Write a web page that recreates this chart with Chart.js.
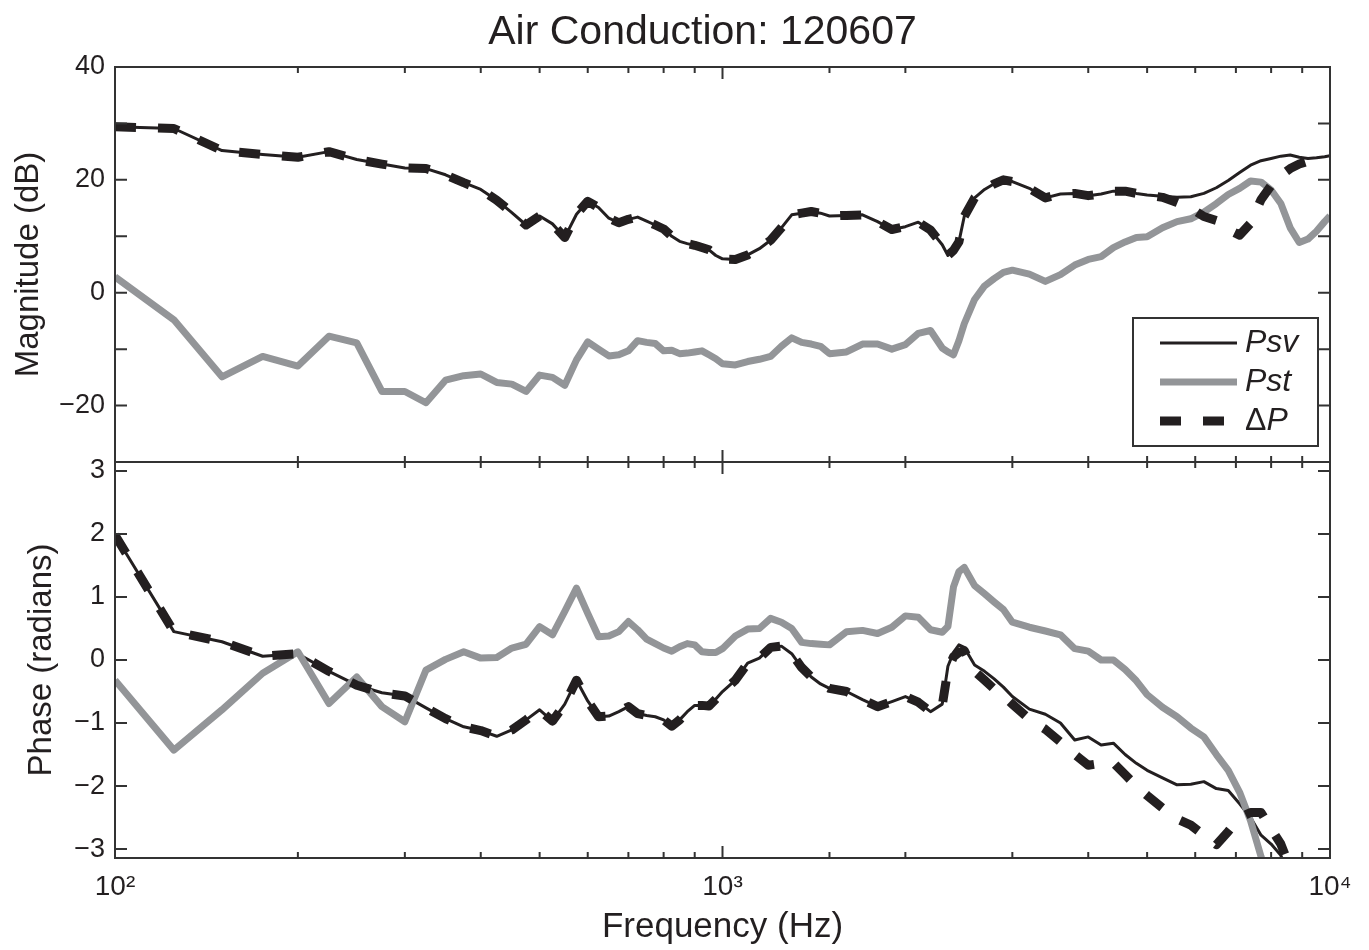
<!DOCTYPE html>
<html>
<head>
<meta charset="utf-8">
<title>Air Conduction: 120607</title>
<script src="https://cdn.jsdelivr.net/npm/chart.js@4/dist/chart.umd.min.js"></script>
<style>
  body { margin: 0; background: #fff; }
  #wrap { position: relative; width: 1369px; height: 950px; background: #fff; }
  #magChart { position: absolute; left: 0; top: 0; }
  #phaseChart { position: absolute; left: 0; top: 450px; }
  #title {
    position: absolute; left: 0; top: 8px; width: 1405px;
    text-align: center; line-height: 44px; font-size: 41px;
    font-family: "Liberation Sans", Arial, Helvetica, sans-serif; color: #231f20;
  }
</style>
</head>
<body>
<div id="wrap">
  <canvas id="magChart" width="1369" height="470"></canvas>
  <canvas id="phaseChart" width="1369" height="500"></canvas>
  <div id="title">Air Conduction: 120607</div>
</div>
<script>
// frequencies (Hz) shared by every curve
var freqHz = [
  100, 125, 150, 175, 200, 225, 250, 275, 300, 325,
  350, 375, 400, 425, 450, 475, 500, 525, 550, 575,
  600, 625, 650, 675, 700, 725, 750, 775, 800, 825,
  850, 875, 900, 925, 950, 975, 1000, 1050, 1100, 1150,
  1200, 1250, 1300, 1350, 1400, 1450, 1500, 1600, 1700, 1800,
  1900, 2000, 2100, 2200, 2300, 2350, 2400, 2450, 2500, 2600,
  2700, 2800, 2900, 3000, 3200, 3400, 3600, 3800, 4000, 4200,
  4400, 4600, 4800, 5000, 5300, 5600, 5900, 6200, 6500, 6800,
  7100, 7400, 7700, 8000, 8300, 8600, 8900, 9200, 9500, 9800,
  10000
];

// magnitude (dB)
var psvMag = [
  29.4, 29.1, 25.2, 24.5, 24.0, 25.0, 23.6, 22.8, 22.1, 22.0,
  20.9, 19.5, 18.3, 16.4, 14.2, 12.0, 13.6, 12.2, 9.8, 13.9,
  16.2, 15.1, 13.2, 12.4, 13.0, 13.4, 12.7, 12.0, 11.3, 10.0,
  9.1, 8.7, 8.4, 8.0, 7.6, 6.6, 6.0, 5.9, 6.7, 7.8,
  9.3, 11.5, 13.8, 14.1, 14.4, 14.1, 13.6, 13.7, 13.8, 12.6,
  11.2, 11.7, 12.5, 11.1, 8.5, 6.6, 7.5, 9.0, 13.5, 16.8,
  18.3, 19.3, 20.0, 19.7, 18.5, 16.8, 17.5, 17.6, 17.2, 17.5,
  18.0, 18.0, 17.6, 17.3, 17.1, 16.9, 17.0, 17.6, 18.6, 19.9,
  21.3, 22.6, 23.4, 23.8, 24.2, 24.4, 24.0, 23.8, 23.9, 24.1,
  24.3
];
var pstMag = [
  2.8, -4.8, -14.9, -11.3, -13.0, -7.7, -8.9, -17.5, -17.5, -19.5,
  -15.5, -14.7, -14.4, -15.9, -16.2, -17.5, -14.6, -15.0, -16.4, -11.9,
  -8.7, -10.0, -11.2, -11.0, -10.3, -8.5, -8.8, -9.0, -10.3, -10.2,
  -10.8, -10.7, -10.5, -10.3, -11.0, -11.7, -12.6, -12.8, -12.2, -11.8,
  -11.3, -9.5, -8.0, -8.8, -9.1, -9.5, -10.8, -10.5, -9.1, -9.1,
  -10.0, -9.2, -7.2, -6.7, -9.8, -10.5, -11.0, -8.5, -5.5, -1.2,
  1.2, 2.5, 3.6, 4.0, 3.3, 2.0, 3.2, 4.9, 5.9, 6.4,
  8.0, 9.0, 9.8, 9.9, 11.5, 12.6, 13.1, 14.3, 15.8, 17.4,
  18.5, 19.8, 19.6, 18.2, 15.8, 11.5, 8.9, 9.5, 10.9, 12.6,
  13.6
];
var dpMag = [
  29.4, 29.1, 25.2, 24.5, 24.0, 25.0, 23.6, 22.8, 22.1, 22.0,
  20.9, 19.5, 18.3, 16.4, 14.2, 12.0, 13.6, 12.2, 9.8, 13.9,
  16.2, 15.1, 13.2, 12.4, 13.0, 13.4, 12.7, 12.0, 11.3, 10.0,
  9.1, 8.7, 8.4, 8.0, 7.6, 6.6, 6.0, 5.9, 6.7, 7.8,
  9.3, 11.5, 13.8, 14.1, 14.4, 14.1, 13.6, 13.7, 13.8, 12.6,
  11.2, 11.7, 12.5, 11.1, 8.5, 6.6, 7.5, 9.0, 13.5, 16.8,
  18.3, 19.3, 20.0, 19.7, 18.5, 16.8, 17.5, 17.6, 17.2, 17.5,
  18.0, 18.0, 17.6, 17.3, 16.9, 16.0, 15.0, 13.5, 12.8, 11.2,
  10.2, 12.3, 16.5, 19.0, 20.8, 22.0, 22.8, 23.3, null, null,
  null
];

// phase (radians)
var psvPhase = [
  1.98, 0.45, 0.29, 0.06, 0.10, -0.18, -0.40, -0.52, -0.57, -0.76,
  -0.93, -1.06, -1.12, -1.21, -1.11, -0.95, -0.79, -0.97, -0.70, -0.32,
  -0.65, -0.90, -0.89, -0.82, -0.74, -0.85, -0.88, -0.90, -0.95, -1.05,
  -0.95, -0.82, -0.72, -0.72, -0.73, -0.62, -0.50, -0.32, -0.05, 0.03,
  0.20, 0.22, 0.10, -0.12, -0.27, -0.38, -0.45, -0.50, -0.63, -0.74,
  -0.66, -0.58, -0.67, -0.82, -0.70, -0.10, 0.12, 0.24, 0.20, -0.08,
  -0.18, -0.30, -0.43, -0.58, -0.78, -0.86, -1.00, -1.27, -1.22, -1.35,
  -1.32, -1.50, -1.64, -1.75, -1.87, -1.98, -1.97, -1.93, -2.04, -2.07,
  -2.28, -2.50, -2.78, -2.92, -3.10, -3.50, null, null, null, null,
  null
];
var pstPhase = [
  -0.32, -1.43, -0.79, -0.21, 0.13, -0.69, -0.27, -0.74, -0.98, -0.16,
  0.01, 0.13, 0.03, 0.04, 0.19, 0.25, 0.53, 0.40, 0.77, 1.14,
  0.74, 0.37, 0.38, 0.45, 0.61, 0.48, 0.33, 0.26, 0.19, 0.14,
  0.21, 0.26, 0.24, 0.13, 0.12, 0.12, 0.18, 0.38, 0.49, 0.50,
  0.66, 0.60, 0.50, 0.28, 0.26, 0.25, 0.24, 0.45, 0.47, 0.42,
  0.52, 0.70, 0.68, 0.48, 0.44, 0.53, 1.16, 1.40, 1.47, 1.18,
  1.05, 0.92, 0.80, 0.60, 0.52, 0.46, 0.40, 0.18, 0.14, 0.00,
  0.00, -0.15, -0.33, -0.55, -0.75, -0.90, -1.08, -1.22, -1.50, -1.75,
  -2.10, -2.55, -3.12, -3.60, null, null, null, null, null, null,
  null
];
var dpPhase = [
  1.98, 0.45, 0.29, 0.06, 0.10, -0.18, -0.40, -0.52, -0.57, -0.76,
  -0.93, -1.06, -1.12, -1.21, -1.11, -0.95, -0.79, -0.97, -0.70, -0.32,
  -0.65, -0.90, -0.89, -0.82, -0.74, -0.85, -0.88, -0.90, -0.95, -1.05,
  -0.95, -0.82, -0.72, -0.72, -0.73, -0.62, -0.50, -0.32, -0.05, 0.03,
  0.20, 0.22, 0.10, -0.12, -0.27, -0.38, -0.45, -0.50, -0.63, -0.74,
  -0.66, -0.58, -0.67, -0.82, -0.72, -0.15, 0.05, 0.12, 0.15, -0.18,
  -0.32, -0.46, -0.57, -0.70, -0.94, -1.10, -1.30, -1.50, -1.67, -1.64,
  -1.63, -1.82, -2.00, -2.15, -2.35, -2.52, -2.62, -2.78, -2.93, -2.72,
  -2.50, -2.42, -2.42, -2.68, -2.92, -3.30, null, null, null, null,
  null
];

// ticks
var magTicks = [-30, -20, -10, 0, 10, 20, 30, 40];
var phaseTicks = [-3, -2, -1, 0, 1, 2, 3];
var decadeLabels = { 100: '10\u00B2', 1000: '10\u00B3', 10000: '10\u2074' };

var BLACK = '#231f20';
var GREY = '#939598';
var FONT = '"Liberation Sans", Arial, Helvetica, sans-serif';

Chart.defaults.font.family = FONT;
Chart.defaults.color = BLACK;

function pts(vals) {
    return freqHz.map(function (f, i) { return { x: f, y: vals[i] }; });
}

function fmt(v) {
    return v < 0 ? '\u2212' + Math.abs(v) : String(v);
}

function isDecade(v) {
    var l = Math.log10(v);
    return Math.abs(l - Math.round(l)) < 1e-9;
}

// stop the axes from asking for extra room around the plot
function noPad(s) {
    s.paddingTop = 0; s.paddingBottom = 0;
    s.paddingLeft = 0; s.paddingRight = 0;
}

// box + inward ticks like the original figure
var frameTicks = {
    id: 'frameTicks',
    afterDatasetsDraw: function (chart) {
        var ctx = chart.ctx, a = chart.chartArea;
        var x = chart.scales.x, y = chart.scales.y;
        ctx.save();
        ctx.strokeStyle = '#333';
        ctx.lineWidth = 2;
        ctx.beginPath();
        y.ticks.forEach(function (t) {
            var py = y.getPixelForValue(t.value);
            ctx.moveTo(a.left, py); ctx.lineTo(a.left + 12, py);
            ctx.moveTo(a.right, py); ctx.lineTo(a.right - 12, py);
        });
        x.ticks.forEach(function (t) {
            var px = x.getPixelForValue(t.value);
            var len = isDecade(t.value) ? 12 : 6;
            ctx.moveTo(px, a.top); ctx.lineTo(px, a.top + len);
            ctx.moveTo(px, a.bottom); ctx.lineTo(px, a.bottom - len);
        });
        ctx.stroke();
        ctx.strokeRect(a.left, a.top, a.right - a.left, a.bottom - a.top);
        ctx.restore();
    }
};

// legend box inside the magnitude panel
var boxLegend = {
    id: 'boxLegend',
    afterDraw: function (chart) {
        var ctx = chart.ctx, a = chart.chartArea;
        var bx = a.right - 197, by = a.top + 251, bw = 185, bh = 128;
        ctx.save();
        ctx.fillStyle = '#fff';
        ctx.fillRect(bx, by, bw, bh);
        ctx.strokeStyle = '#333';
        ctx.lineWidth = 2;
        ctx.strokeRect(bx, by, bw, bh);
        var order = [2, 1, 0];
        order.forEach(function (di, row) {
            var ds = chart.data.datasets[di];
            var ry = by + 25 + row * 39;
            ctx.save();
            ctx.strokeStyle = ds.borderColor;
            ctx.lineWidth = ds.borderWidth;
            ctx.setLineDash(ds.borderDash || []);
            ctx.beginPath();
            ctx.moveTo(bx + 27, ry);
            ctx.lineTo(bx + 104, ry);
            ctx.stroke();
            ctx.restore();
            ctx.fillStyle = BLACK;
            ctx.textBaseline = 'middle';
            var tx = bx + 112;
            var label = ds.label;
            if (label.charAt(0) === '\u0394') {
                ctx.font = '32px ' + FONT;
                ctx.fillText('\u0394', tx, ry);
                tx += ctx.measureText('\u0394').width;
                label = label.slice(1);
            }
            ctx.font = 'italic 32px ' + FONT;
            ctx.fillText(label, tx, ry);
        });
        ctx.restore();
    }
};

function lineSets(psv, pst, dp) {
    return [
        { label: '\u0394P', data: pts(dp), borderColor: BLACK, borderWidth: 9, borderDash: [21, 22], order: 0 },
        { label: 'Pst', data: pts(pst), borderColor: GREY, borderWidth: 7, order: 1 },
        { label: 'Psv', data: pts(psv), borderColor: BLACK, borderWidth: 3, order: 2 }
    ].map(function (d) {
        d.pointRadius = 0;
        d.fill = false;
        d.tension = 0;
        d.spanGaps = false;
        d.clip = 0;
        d.borderJoinStyle = 'round';
        return d;
    });
}

var plainGrid = { display: false, drawTicks: false };

new Chart(document.getElementById('magChart').getContext('2d'), {
    type: 'line',
    data: { datasets: lineSets(psvMag, pstMag, dpMag) },
    options: {
        responsive: false,
        animation: false,
        layout: { padding: { left: 0, right: 39, top: 67, bottom: 8 } },
        plugins: {
            legend: { display: false },
            tooltip: { enabled: false }
        },
        scales: {
            x: {
                type: 'logarithmic', min: 100, max: 10000,
                ticks: { display: false, autoSkip: false },
                grid: plainGrid, border: { display: false },
                afterFit: function (s) { s.height = 0; noPad(s); }
            },
            y: {
                min: -30, max: 40,
                afterBuildTicks: function (s) { s.ticks = magTicks.map(function (v) { return { value: v }; }); },
                ticks: {
                    color: BLACK, padding: 10, font: { size: 27 },
                    callback: function (v) { return v % 20 === 0 ? fmt(v) : ''; }
                },
                grid: plainGrid, border: { display: false },
                title: { display: true, text: 'Magnitude (dB)', color: BLACK, font: { size: 33 }, padding: { top: 9, bottom: 0 } },
                afterFit: function (s) { s.width = 115; noPad(s); }
            }
        }
    },
    plugins: [frameTicks, boxLegend]
});

new Chart(document.getElementById('phaseChart').getContext('2d'), {
    type: 'line',
    data: { datasets: lineSets(psvPhase, pstPhase, dpPhase) },
    options: {
        responsive: false,
        animation: false,
        layout: { padding: { left: 0, right: 39, top: 12, bottom: 0 } },
        plugins: {
            legend: { display: false },
            tooltip: { enabled: false }
        },
        scales: {
            x: {
                type: 'logarithmic', min: 100, max: 10000,
                ticks: {
                    autoSkip: false, maxRotation: 0, color: BLACK, padding: 12, font: { size: 28 },
                    callback: function (v) { return decadeLabels[v] || ''; }
                },
                grid: plainGrid, border: { display: false },
                title: { display: true, text: 'Frequency (Hz)', color: BLACK, font: { size: 35 }, padding: { top: 0, bottom: 2 } },
                afterFit: function (s) { s.height = 92; noPad(s); }
            },
            y: {
                min: -Math.PI, max: Math.PI,
                afterBuildTicks: function (s) { s.ticks = phaseTicks.map(function (v) { return { value: v }; }); },
                ticks: { color: BLACK, padding: 10, font: { size: 27 }, callback: function (v) { return fmt(v); } },
                grid: plainGrid, border: { display: false },
                title: { display: true, text: 'Phase (radians)', color: BLACK, font: { size: 33 }, padding: { top: 22, bottom: 0 } },
                afterFit: function (s) { s.width = 115; noPad(s); }
            }
        }
    },
    plugins: [frameTicks]
});
</script>
</body>
</html>
